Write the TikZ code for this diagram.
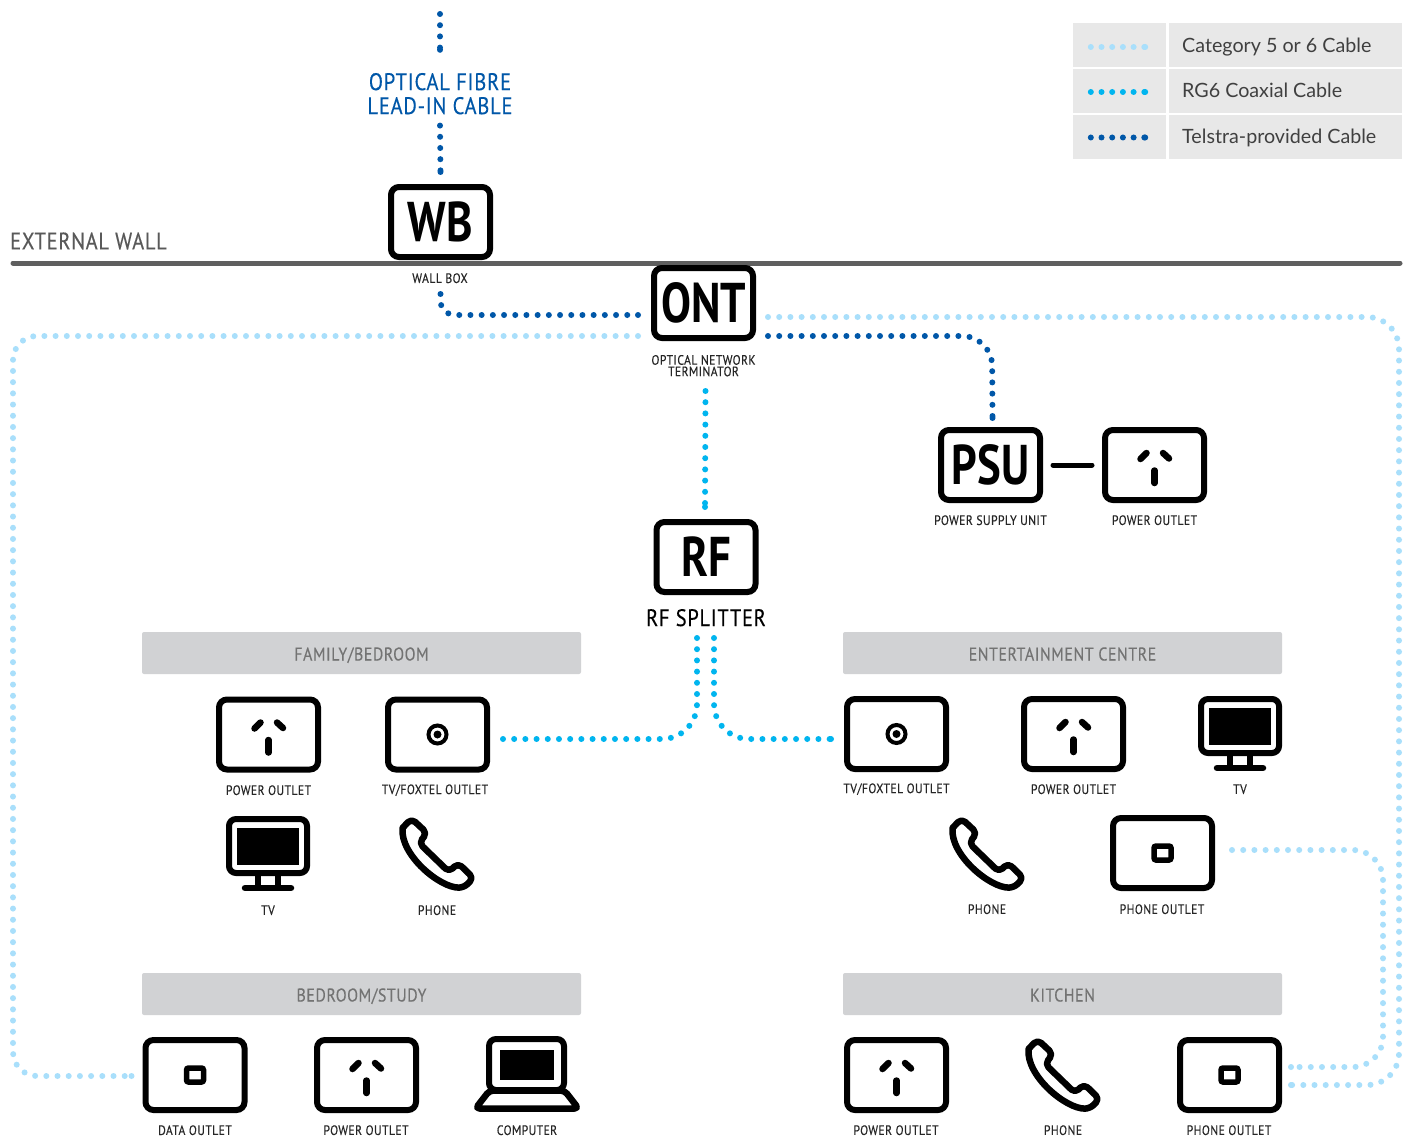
\documentclass[tikz,border=0pt]{standalone}
\usepackage{fontspec}
\usetikzlibrary{decorations.markings}
\setmainfont{PT Sans}
\newfontfamily\din[FakeStretch=0.86,LetterSpace=3,FakeBold=0.25]{PT Sans}
\newfontfamily\dinbox[FakeStretch=0.8]{PT Sans}
\newfontfamily\legfont{Lato}
\definecolor{catc}{HTML}{A9DFFB}
\definecolor{rgc}{HTML}{00B5EF}
\definecolor{telc}{HTML}{0057A8}
\definecolor{barc}{HTML}{D1D2D4}
\definecolor{legc}{HTML}{E8E8E8}
\definecolor{wallc}{HTML}{5F5F5F}
\tikzset{
  x=1pt,y=-1pt,
  endmark/.style={postaction={decorate,decoration={markings,mark=at position 1 with {\fill[#1] (0,0) circle[radius=3pt];}}}},
  dotline/.style={line width=6pt,line cap=round,dash pattern=on 0pt off 11.2pt},
  cat/.style={dotline,draw=catc,endmark=catc},
  rg/.style={dotline,draw=rgc,endmark=rgc},
  tel/.style={dotline,draw=telc,endmark=telc},
  iconbox/.style={draw=black,fill=white,line width=6pt,rounded corners=8pt,minimum width=99pt,minimum height=70pt,inner sep=0pt},
  boxtext/.style={iconbox,font=\dinbox\fontsize{56}{56}\selectfont\bfseries},
  lab/.style={font=\din\fontsize{13.6}{13}\selectfont,text=black!85,align=center,inner sep=0pt,yshift=-0.7pt},
  bar/.style={fill=barc,rounded corners=2pt,minimum width=439pt,minimum height=42pt,inner sep=0pt,text height=15pt,text depth=0pt,font=\din\fontsize{18.5}{19}\selectfont,text=black!55},
  legcell/.style={fill=legc,minimum height=44pt,inner sep=0pt},
  legtext/.style={font=\legfont\fontsize{19.7}{22}\selectfont,text=black!75,inner sep=0pt,anchor=base west},
  glyph/.style={line width=6.5pt,line cap=round,draw=black},
  screenframe/.style={draw=black,fill=white,line width=6pt,rounded corners=7pt,inner sep=0pt},
}
\newcommand{\powerglyph}[1]{%
  \draw[glyph] ([shift={(-14,-6)}]#1.center) -- ([shift={(-8,-12)}]#1.center);
  \draw[glyph] ([shift={(8.5,-12)}]#1.center) -- ([shift={(14.5,-6.5)}]#1.center);
  \draw[glyph] ([shift={(0,5.5)}]#1.center) -- ([shift={(0,18)}]#1.center);}
\newcommand{\coaxglyph}[1]{%
  \draw[line width=4pt] (#1.center) circle[radius=9pt];
  \fill (#1.center) circle[radius=4pt];}
\newcommand{\dataglyph}[1]{%
  \draw[line width=5.5pt,rounded corners=2pt] ([shift={(-8.5,-7)}]#1.center) rectangle ([shift={(8.5,7)}]#1.center);}
\newcommand{\tvicon}[1]{%
  \fill ([shift={(-31,-18.5)}]#1.center) rectangle ([shift={(31,18.5)}]#1.center);
  \draw[line width=6pt] ([shift={(-10,27)}]#1.center) -- ([shift={(-10,42)}]#1.center);
  \draw[line width=6pt] ([shift={(10,27)}]#1.center) -- ([shift={(10,42)}]#1.center);
  \draw[line width=6.5pt,line cap=round] ([shift={(-23,42)}]#1.center) -- ([shift={(23,42)}]#1.center);}
\newcommand{\phoneicon}[2]{%
  \coordinate (#1) at #2;
  \begin{scope}[shift={(#1)},shift={(-47,-43)}]
  \draw[line width=6.5pt,line join=round,rounded corners=5pt]
    (12.5,18) -- (21.5,8.5) -- (37,23) -- (29,33) -- (59,62) -- (68,53) -- (83.5,68) -- (74,77.5)
    [rounded corners=0pt] .. controls (50,78) and (10,45) .. (12.5,18) -- cycle;
  \end{scope}}
\begin{document}
\begin{tikzpicture}
\path[use as bounding box,fill=white] (0,0) rectangle (1408,1137);

% wall
\coordinate (wl) at (13,263);
\coordinate (wr) at (1400,263);
\draw[line width=5pt,line cap=round,draw=wallc] (wl) -- (wr);
\node[anchor=west,inner sep=0pt,font=\din\fontsize{23.8}{24}\selectfont,text=black!65] (ext) at (10,241) {EXTERNAL WALL};

% legend
\node[legcell,minimum width=93pt] (k1) at (1119.5,45.5) {};
\node[legcell,minimum width=93pt] (k2) at (1119.5,91) {};
\node[legcell,minimum width=93pt] (k3) at (1119.5,137) {};
\node[legcell,minimum width=233pt] (t1) at (1285.5,45.5) {};
\node[legcell,minimum width=233pt] (t2) at (1285.5,91) {};
\node[legcell,minimum width=233pt] (t3) at (1285.5,137) {};
\node[legtext] (tt1) at (1182,53) {Category 5 or 6 Cable};
\node[legtext] (tt2) at (1182,98) {RG6 Coaxial Cable};
\node[legtext] (tt3) at (1182,143) {Telstra-provided Cable};
\draw[cat,dash pattern=on 0pt off 10.7pt] ([xshift=18pt,yshift=-1.5pt]k1.west) -- ([xshift=-21pt,yshift=-1.5pt]k1.east);
\draw[rg,dash pattern=on 0pt off 10.7pt] ([xshift=18pt,yshift=-1pt]k2.west) -- ([xshift=-21pt,yshift=-1pt]k2.east);
\draw[tel,dash pattern=on 0pt off 10.7pt] ([xshift=18pt,yshift=-0.5pt]k3.west) -- ([xshift=-21pt,yshift=-0.5pt]k3.east);

% section bars
\node[bar] (b1) at (361.5,653) {FAMILY/BEDROOM};
\node[bar] (b2) at (1062.5,653) {ENTERTAINMENT CENTRE};
\node[bar] (b3) at (361.5,994) {BEDROOM/STUDY};
\node[bar] (b4) at (1062.5,994) {KITCHEN};

% lettered boxes
\node[boxtext] (wb) at (440.5,222) {WB};
\node[boxtext] (ont) at (703.5,303) {ONT};
\node[boxtext] (psu) at (990.5,465) {PSU};
\node[boxtext] (rf) at (706,557) {RF};

% outlets
\node[iconbox] (p0) at (1154.5,465) {}; \powerglyph{p0}
\node[iconbox] (p1) at (268.5,734.5) {}; \powerglyph{p1}
\node[iconbox] (c1) at (437.5,734.5) {}; \coaxglyph{c1}
\node[iconbox] (c2) at (896.5,734) {}; \coaxglyph{c2}
\node[iconbox] (p2) at (1073.5,734) {}; \powerglyph{p2}
\node[iconbox] (po1) at (1162.5,853) {}; \dataglyph{po1}
\node[iconbox] (d1) at (195,1075) {}; \dataglyph{d1}
\node[iconbox] (p3) at (366.5,1075) {}; \powerglyph{p3}
\node[iconbox] (p4) at (896.5,1075) {}; \powerglyph{p4}
\node[iconbox] (po2) at (1229.5,1075) {}; \dataglyph{po2}

% TVs
\node[screenframe,minimum width=78pt,minimum height=54pt] (tv1) at (268,846) {}; \tvicon{tv1}
\node[screenframe,minimum width=78pt,minimum height=54pt] (tv2) at (1240,726) {}; \tvicon{tv2}

% phones
\phoneicon{ph1}{(437,853)}
\phoneicon{ph2}{(987,853)}
\phoneicon{ph3}{(1063,1074)}

% laptop
\node[screenframe,minimum width=75pt,minimum height=51pt] (pc) at (526.5,1064.5) {};
\fill ([shift={(-27,-15)}]pc.center) rectangle ([shift={(27,15)}]pc.center);
\draw[line width=6.5pt,line join=round,rounded corners=4pt]
  ([shift={(-37,26)}]pc.center) -- ([shift={(-51,44)}]pc.center) -- ([shift={(52,44)}]pc.center) -- ([shift={(38,26)}]pc.center) -- cycle;

% captions
\node[lab] (lwb) at (440,277.5) {WALL BOX};
\node[lab] (lont) at (703.5,365) {OPTICAL NETWORK\\[-1.5pt]TERMINATOR};
\node[lab] (lpsu) at (990.5,519.5) {POWER SUPPLY UNIT};
\node[lab] (lp0) at (1154.5,519.5) {POWER OUTLET};
\node[lab] (lp1) at (268.5,789.5) {POWER OUTLET};
\node[lab] (lc1) at (435,789.5) {TV/FOXTEL OUTLET};
\node[lab] (ltv1) at (268,909.5) {TV};
\node[lab] (lph1) at (437,909.5) {PHONE};
\node[lab] (lc2) at (896.5,788.5) {TV/FOXTEL OUTLET};
\node[lab] (lp2) at (1073.5,788.5) {POWER OUTLET};
\node[lab] (ltv2) at (1240,788.5) {TV};
\node[lab] (lph2) at (987,908.5) {PHONE};
\node[lab] (lpo1) at (1162,908.5) {PHONE OUTLET};
\node[lab] (ld1) at (195,1129.5) {DATA OUTLET};
\node[lab] (lp3) at (366,1129.5) {POWER OUTLET};
\node[lab] (lpc) at (527,1129.5) {COMPUTER};
\node[lab] (lp4) at (896,1129.5) {POWER OUTLET};
\node[lab] (lph3) at (1063,1129.5) {PHONE};
\node[lab] (lpo2) at (1229,1129.5) {PHONE OUTLET};
\node[lab,font=\din\fontsize{23.8}{24}\selectfont,text=black] (lrf) at (706,617) {RF SPLITTER};
\node[lab,font=\din\fontsize{24}{24}\selectfont,text=telc] (fibre) at (440,93) {OPTICAL FIBRE\\LEAD-IN CABLE};

% power link
\draw[line width=5pt,line cap=round,shorten <=10pt,shorten >=10pt] (psu) -- (p0);

% connectors
\coordinate (ftop) at (440,14);
\draw[tel] (ftop) -- ([yshift=23pt]fibre.north);
\draw[tel] ([yshift=-11pt]fibre.south) -- ([yshift=12pt]wb.north);

\coordinate (c5tl) at (13,336);
\coordinate (c5bl) at (13,1076);
\draw[cat,rounded corners=24pt] ([shift={(-13,33)}]ont.west) -- (c5tl) -- (c5bl) -- ([shift={(-11,1)}]d1.west);

\coordinate (c5tr) at (1399,317);
\coordinate (c5br) at (1399,1085);
\draw[cat,rounded corners=32pt] ([shift={(12pt,-14pt)}]ont.east) -- (c5tr) -- (c5br) -- ([shift={(9pt,-10pt)}]po2.east);

\coordinate (c6tr) at (1383,850);
\coordinate (c6br) at (1383,1067);
\draw[cat,rounded corners=30pt] ([xshift=17pt,yshift=3pt]po1.east) -- (c6tr) -- (c6br) -- ([xshift=9pt,yshift=8pt]po2.east);

\coordinate (tc) at (440,315);
\draw[tel,rounded corners=15pt] ([yshift=-34pt]wb.south) -- (tc) -- ([xshift=-13pt,yshift=-12pt]ont.west);

\coordinate (tr) at (992,336);
\draw[tel,rounded corners=30pt] ([xshift=12pt,yshift=-33pt]ont.east) -- (tr) -- ([xshift=2pt,yshift=9pt]psu.north);

\draw[rg] ([xshift=2pt,yshift=-50pt]ont.south) -- ([xshift=-1pt,yshift=12pt]rf.north);
\coordinate (rl) at (697,739);
\coordinate (rr) at (714,739);
\draw[rg,rounded corners=35pt] ([xshift=-9pt,yshift=-43pt]rf.south) -- (rl) -- ([xshift=13pt,yshift=-4.5pt]c1.east);
\draw[rg,rounded corners=35pt] ([xshift=8pt,yshift=-43pt]rf.south) -- (rr) -- ([xshift=-13pt,yshift=-5pt]c2.west);
\end{tikzpicture}
\end{document}
